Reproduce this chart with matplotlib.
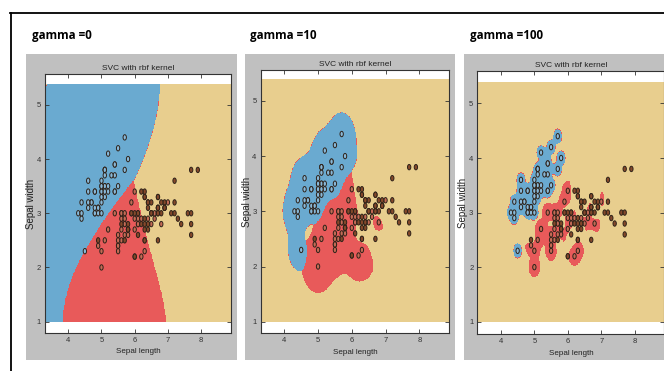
import numpy as np
import matplotlib
matplotlib.use("Agg")
import matplotlib.pyplot as plt
from matplotlib.colors import ListedColormap
from matplotlib.patches import Rectangle
from matplotlib.lines import Line2D
from matplotlib.path import Path

# ---------------- data: iris (sepal length, sepal width) ----------------
sepal_length = [
    5.1, 4.9, 4.7, 4.6, 5.0, 5.4, 4.6, 5.0, 4.4, 4.9, 5.4, 4.8, 4.8, 4.3, 5.8, 5.7, 5.4, 5.1, 5.7, 5.1,
    5.4, 5.1, 4.6, 5.1, 4.8, 5.0, 5.0, 5.2, 5.2, 4.7, 4.8, 5.4, 5.2, 5.5, 4.9, 5.0, 5.5, 4.9, 4.4, 5.1,
    5.0, 4.5, 4.4, 5.0, 5.1, 4.8, 5.1, 4.6, 5.3, 5.0,
    7.0, 6.4, 6.9, 5.5, 6.5, 5.7, 6.3, 4.9, 6.6, 5.2, 5.0, 5.9, 6.0, 6.1, 5.6, 6.7, 5.6, 5.8, 6.2, 5.6,
    5.9, 6.1, 6.3, 6.1, 6.4, 6.6, 6.8, 6.7, 6.0, 5.7, 5.5, 5.5, 5.8, 6.0, 5.4, 6.0, 6.7, 6.3, 5.6, 5.5,
    5.5, 6.1, 5.8, 5.0, 5.6, 5.7, 5.7, 6.2, 5.1, 5.7,
    6.3, 5.8, 7.1, 6.3, 6.5, 7.6, 4.9, 7.3, 6.7, 7.2, 6.5, 6.4, 6.8, 5.7, 5.8, 6.4, 6.5, 7.7, 7.7, 6.0,
    6.9, 5.6, 7.7, 6.3, 6.7, 7.2, 6.2, 6.1, 6.4, 7.2, 7.4, 7.9, 6.4, 6.3, 6.1, 7.7, 6.3, 6.4, 6.0, 6.9,
    6.7, 6.9, 5.8, 6.8, 6.7, 6.7, 6.3, 6.5, 6.2, 5.9]
sepal_width = [
    3.5, 3.0, 3.2, 3.1, 3.6, 3.9, 3.4, 3.4, 2.9, 3.1, 3.7, 3.4, 3.0, 3.0, 4.0, 4.4, 3.9, 3.5, 3.8, 3.8,
    3.4, 3.7, 3.6, 3.3, 3.4, 3.0, 3.4, 3.5, 3.4, 3.2, 3.1, 3.4, 4.1, 4.2, 3.1, 3.2, 3.5, 3.1, 3.0, 3.4,
    3.5, 2.3, 3.2, 3.5, 3.8, 3.0, 3.8, 3.2, 3.7, 3.3,
    3.2, 3.2, 3.1, 2.3, 2.8, 2.8, 3.3, 2.4, 2.9, 2.7, 2.0, 3.0, 2.2, 2.9, 2.9, 3.1, 3.0, 2.7, 2.2, 2.5,
    3.2, 2.8, 2.5, 2.8, 2.9, 3.0, 2.8, 3.0, 2.9, 2.6, 2.4, 2.4, 2.7, 2.7, 3.0, 3.4, 3.1, 2.3, 3.0, 2.5,
    2.6, 3.0, 2.6, 2.3, 2.7, 3.0, 2.9, 2.9, 2.5, 2.8,
    3.3, 2.7, 3.0, 2.9, 3.0, 3.0, 2.5, 2.9, 2.5, 3.6, 3.2, 2.7, 3.0, 2.5, 2.8, 3.2, 3.0, 3.8, 2.6, 2.2,
    3.2, 2.8, 2.8, 2.7, 3.3, 3.2, 2.8, 3.0, 2.8, 3.0, 2.8, 3.8, 2.8, 2.8, 2.6, 3.0, 3.4, 3.1, 3.0, 3.1,
    3.1, 3.1, 2.7, 3.2, 3.3, 3.0, 2.5, 3.0, 3.4, 3.0]
species = [0] * 50 + [1] * 50 + [2] * 50

gamma_labels = ["gamma =0", "gamma =10", "gamma =100"]
gamma_values = [0.5, 10.0, 100.0]   # gamma=0 -> 'auto' = 1/n_features
C_value = 1.0
x_ticks = [4, 5, 6, 7, 8]
y_ticks = [1, 2, 3, 4, 5]

region_colors = ["#6aaad0", "#e85a5a", "#e8ce8e"]
point_colors = ["#88b8d8", "#c46a55", "#84482a"]

X = np.column_stack([sepal_length, sepal_width])
y = np.array(species)


# ---------------- a small SMO solver (libsvm-style) ----------------
def rbf(A, B, g):
    d = ((A[:, None, :] - B[None, :, :]) ** 2).sum(-1)
    return np.exp(-g * d)


def smo(K, yy, C, tol=1e-3, max_iter=300000):
    n = len(yy)
    a = np.zeros(n)
    G = -np.ones(n)
    Q = (yy[:, None] * yy[None, :]) * K
    m = M = 0.0
    for _ in range(max_iter):
        myG = -yy * G
        up = ((yy > 0) & (a < C)) | ((yy < 0) & (a > 0))
        low = ((yy < 0) & (a < C)) | ((yy > 0) & (a > 0))
        iu = np.where(up)[0]
        il = np.where(low)[0]
        i = iu[np.argmax(myG[iu])]
        j = il[np.argmin(myG[il])]
        m, M = myG[i], myG[j]
        if m - M < tol:
            break
        eta = max(K[i, i] + K[j, j] - 2 * K[i, j], 1e-12)
        s = (m - M) / eta
        si = C - a[i] if yy[i] > 0 else a[i]
        sj = a[j] if yy[j] > 0 else C - a[j]
        s = min(s, si, sj)
        dai = yy[i] * s
        daj = -yy[j] * s
        a[i] += dai
        a[j] += daj
        G += Q[:, i] * dai + Q[:, j] * daj
    yG = yy * G
    free = (a > 1e-8) & (a < C - 1e-8)
    rho = yG[free].mean() if free.any() else -(m + M) / 2
    return a, rho


def predict(Xtr, ytr, Xq, g, C):
    votes = np.zeros((len(Xq), 3), dtype=int)
    for ci in range(3):
        for cj in range(ci + 1, 3):
            mask = (ytr == ci) | (ytr == cj)
            Xp = Xtr[mask]
            yp = np.where(ytr[mask] == ci, 1.0, -1.0)
            K = rbf(Xp, Xp, g)
            a, rho = smo(K, yp, C)
            sv = a > 1e-10
            dec = rbf(Xq, Xp[sv], g) @ (a[sv] * yp[sv]) - rho
            votes[:, ci] += dec > 0
            votes[:, cj] += dec <= 0
    return np.argmax(votes, axis=1)


h = 0.02
x_min, x_max = X[:, 0].min() - 1, X[:, 0].max() + 1
y_min, y_max = X[:, 1].min() - 1, X[:, 1].max() + 1
xx, yy_ = np.meshgrid(np.arange(x_min, x_max, h), np.arange(y_min, y_max, h))
grid = np.c_[xx.ravel(), yy_.ravel()]

# ---------------- figure layout (pixel based) ----------------
W, H = 664, 371
fig = plt.figure(figsize=(W / 100, H / 100), dpi=100)
fig.patch.set_facecolor("white")

def fx(px):
    return px / W

def fy(py):
    return 1 - py / H

# black frame lines
fig.add_artist(Line2D([fx(10), fx(664)], [fy(12.5), fy(12.5)], transform=fig.transFigure,
                      color="black", lw=1.3))
fig.add_artist(Line2D([fx(10.5), fx(10.5)], [fy(12.5), fy(371)], transform=fig.transFigure,
                      color="black", lw=1.3))

gray_boxes = [(26, 237, 53.5, 360), (245, 455, 53.5, 360), (464, 664, 54, 360)]
axes_boxes = [(45, 230.7, 74, 333), (260.7, 449.3, 70, 333.3), (477.5, 664.5, 70.7, 334.3)]
ylims = [(0.79, 5.57), (0.79, 5.56), (0.77, 5.60)]
label_pos = [(32, 39.5), (250, 39.5), (470, 39.5)]

small = ["Liberation Sans", "DejaVu Sans"]

t = np.linspace(0, 2 * np.pi, 41)
oval = Path(np.column_stack([0.62 * np.cos(t), np.sin(t)]), closed=True)

cmap = ListedColormap(region_colors)

for k in range(3):
    l, r, tp, b = gray_boxes[k]
    fig.add_artist(Rectangle((fx(l), fy(b)), fx(r - l), (b - tp) / H, transform=fig.transFigure,
                             facecolor="#c0c0c0", edgecolor="none", zorder=0))
    al, ar, at, ab = axes_boxes[k]
    ax = fig.add_axes([fx(al), fy(ab), fx(ar - al), (ab - at) / H])
    ax.set_facecolor("white")

    Z = predict(X, y, grid, gamma_values[k], C_value).reshape(xx.shape)
    ax.contourf(xx, yy_, Z, levels=[-0.5, 0.5, 1.5, 2.5], cmap=cmap)
    ax.scatter(X[:, 0], X[:, 1], c=[point_colors[v] for v in y], marker=oval, s=15,
               edgecolors="#2e2219", linewidths=0.7, zorder=3)

    ax.set_xlim(3.3, 8.89)
    ax.set_ylim(*ylims[k])
    ax.set_xticks(x_ticks)
    ax.set_yticks(y_ticks)
    ax.tick_params(direction="in", top=True, right=True, length=3, width=0.6,
                   labelsize=5.5, pad=3, colors="#333333")
    for lab in ax.get_xticklabels() + ax.get_yticklabels():
        lab.set_family(small)
    for sp in ax.spines.values():
        sp.set_color("#333333")
        sp.set_linewidth(0.8)
    ax.set_title("SVC with rbf kernel", fontsize=6, family=small, pad=3, color="#222222")
    ax.set_xlabel("Sepal length", fontsize=5.8, family=small, labelpad=3, color="#222222")
    ax.set_ylabel("Sepal width", fontsize=7, family=small, labelpad=0.5, color="#222222")

    lx, ly = label_pos[k]
    fig.text(fx(lx), fy(ly), gamma_labels[k], fontsize=8.4, fontweight="bold",
             family=["Open Sans", "DejaVu Sans"],
             ha="left", va="baseline", color="black")

fig.savefig("out.png", dpi=100, facecolor="white")
